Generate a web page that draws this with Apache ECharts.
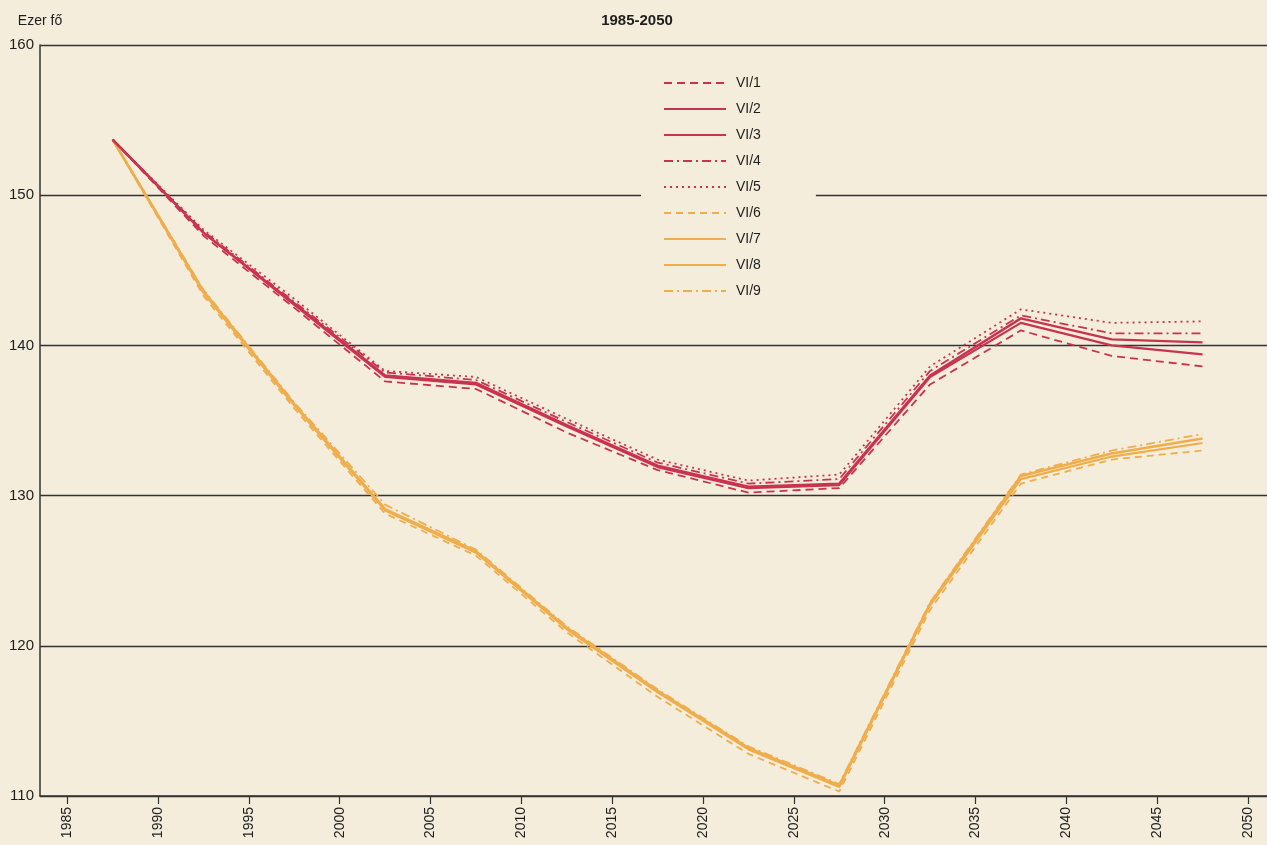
<!DOCTYPE html>
<html>
<head>
<meta charset="utf-8">
<script src="https://cdn.jsdelivr.net/npm/echarts@6/dist/echarts.min.js"></script>
<style>
  html, body { margin: 0; padding: 0; background: #f4eddb; }
  #chart { width: 1267px; height: 845px; }
</style>
</head>
<body>
<div id="chart"></div>
<script>
// évek (5 éves szakaszok közepe)
const years = [1987.5, 1992.5, 1997.5, 2002.5, 2007.5, 2012.5, 2017.5, 2022.5, 2027.5, 2032.5, 2037.5, 2042.5, 2047.5];
const tickYears = [1985, 1990, 1995, 2000, 2005, 2010, 2015, 2020, 2025, 2030, 2035, 2040, 2045, 2050];

// piros változatok
const vi1 = [153.7, 147.3, 142.5, 137.6, 137.1, 134.2, 131.7, 130.2, 130.5, 137.4, 141.0, 139.3, 138.6];
const vi2 = [153.7, 147.5, 142.8, 138.0, 137.5, 134.7, 132.0, 130.6, 130.8, 138.0, 141.8, 140.4, 140.2];
const vi3 = [153.7, 147.5, 142.7, 137.9, 137.4, 134.6, 131.9, 130.5, 130.7, 137.9, 141.5, 140.0, 139.4];
const vi4 = [153.7, 147.6, 142.9, 138.2, 137.7, 134.9, 132.2, 130.8, 131.1, 138.3, 142.0, 140.8, 140.8];
const vi5 = [153.7, 147.7, 143.1, 138.3, 137.9, 135.1, 132.4, 131.0, 131.4, 138.6, 142.4, 141.5, 141.6];
// sárga változatok
const vi6 = [153.7, 143.3, 135.8, 128.8, 126.0, 120.9, 116.6, 112.8, 110.3, 122.4, 130.8, 132.4, 133.0];
const vi7 = [153.7, 143.5, 136.0, 129.0, 126.2, 121.1, 116.9, 113.1, 110.6, 122.7, 131.1, 132.6, 133.5];
const vi8 = [153.7, 143.6, 136.1, 129.1, 126.3, 121.2, 117.0, 113.2, 110.7, 122.8, 131.3, 132.8, 133.8];
const vi9 = [153.7, 143.7, 136.2, 129.4, 126.4, 121.3, 117.1, 113.3, 110.8, 122.9, 131.4, 133.0, 134.1];

const names = ["VI/1", "VI/2", "VI/3", "VI/4", "VI/5", "VI/6", "VI/7", "VI/8", "VI/9"];
const values = [vi1, vi2, vi3, vi4, vi5, vi6, vi7, vi8, vi9];

const RED = "#c8344f";
const YEL = "#efad4c";
const BG = "#f4eddb";
const INK = "#1e1e1e";

// vonalstílusok sorban
const styles = [
    { color: RED, type: [8, 5], width: 1.8 },
    { color: RED, type: "solid", width: 2.4 },
    { color: RED, type: "solid", width: 2.2 },
    { color: RED, type: [9, 4, 2, 4], width: 1.8 },
    { color: RED, type: [2, 4], width: 1.8 },
    { color: YEL, type: [7, 5], width: 1.8 },
    { color: YEL, type: "solid", width: 2.2 },
    { color: YEL, type: "solid", width: 2.6 },
    { color: YEL, type: [9, 4, 2, 4], width: 1.8 },
];

const series = names.map((n, i) => ({
    name: n,
    type: "line",
    symbol: "none",
    color: styles[i].color,
    lineStyle: styles[i],
    data: years.map((y, j) => [y, values[i][j]]),
    z: i < 5 ? 3 : 2,
}));

const chart = echarts.init(document.getElementById("chart"));
chart.setOption({
    backgroundColor: BG,
    animation: false,
    textStyle: { fontFamily: "Liberation Sans, Arial, sans-serif" },
    title: {
        text: "1985-2050",
        left: 632,
        textAlign: "center",
        top: 8,
        textStyle: { fontSize: 15, fontWeight: "bold", color: INK },
    },
    legend: {
        orient: "vertical",
        left: 641,
        top: 70,
        itemWidth: 62,
        itemHeight: 14,
        itemGap: 12,
        padding: [6, 55, 6, 22],
        backgroundColor: BG,
        itemStyle: { opacity: 0 },
        textStyle: { fontSize: 14, color: INK, padding: [0, 0, 0, 5] },
        data: names,
    },
    grid: { left: 40, right: 0, top: 45, bottom: 49 },
    xAxis: {
        type: "value",
        min: 1983.5,
        max: 2051.05,
        splitLine: { show: false },
        axisLine: { lineStyle: { color: "#333", width: 1.5 } },
        axisTick: {
            customValues: tickYears,
            length: 8,
            lineStyle: { color: "#333", width: 1.2 },
        },
        axisLabel: {
            customValues: tickYears,
            formatter: (v) => String(v),
            rotate: 90,
            margin: 11,
            fontSize: 14,
            color: INK,
        },
    },
    yAxis: {
        type: "value",
        min: 110,
        max: 160,
        interval: 10,
        name: "Ezer fő",
        nameGap: 17,
        nameTextStyle: { fontSize: 14, color: INK },
        axisLine: { show: true, lineStyle: { color: "#333", width: 1.5 } },
        axisTick: { show: false },
        axisLabel: { fontSize: 15, color: INK, margin: 6 },
        splitLine: { lineStyle: { color: "#333", width: 1.4 } },
    },
    series: series,
});
</script>
</body>
</html>
